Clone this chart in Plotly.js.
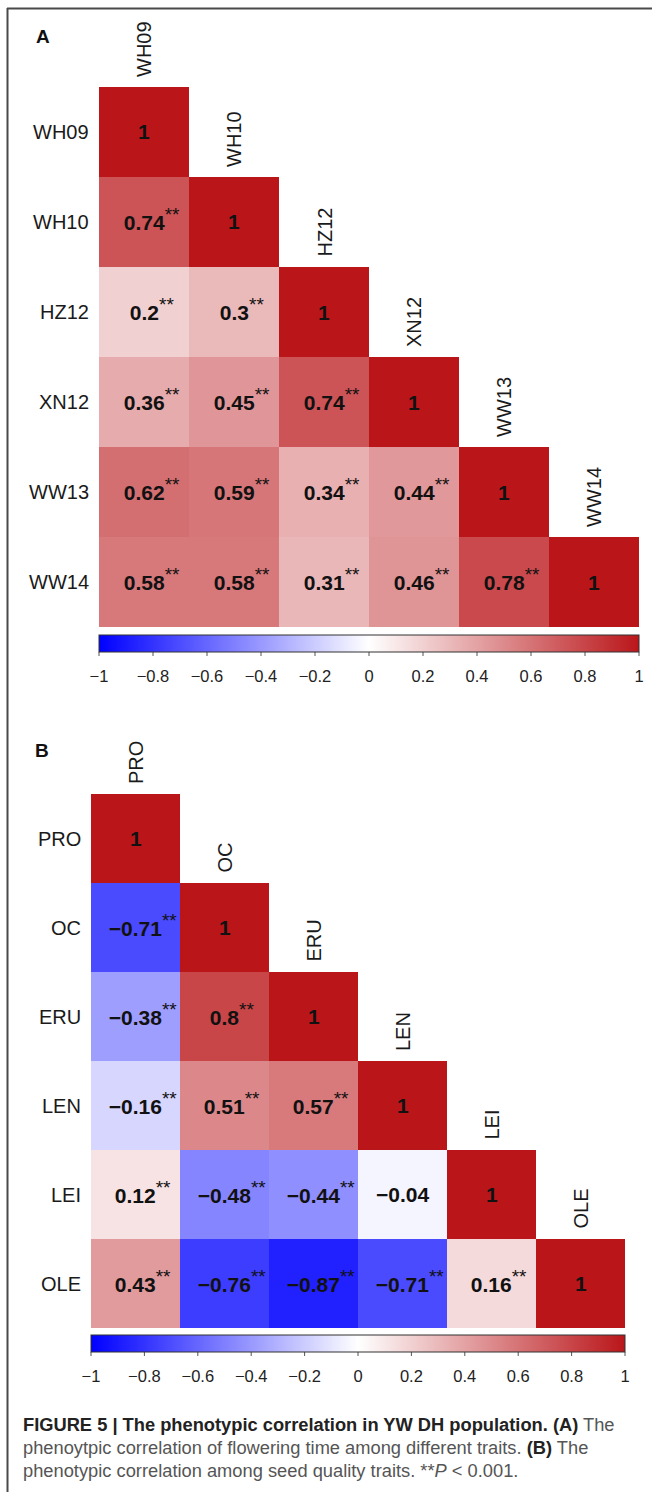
<!DOCTYPE html>
<html>
<head>
<meta charset="utf-8">
<script src="https://cdn.plot.ly/plotly-3.0.1.min.js"></script>
<style>
  html, body { margin: 0; padding: 0; background: #ffffff; }
  #chart { width: 652px; height: 1492px; }
</style>
</head>
<body>
<div id="chart"></div>
<script>
// ---------- data ----------
const traitsA = ["WH09", "WH10", "HZ12", "XN12", "WW13", "WW14"];
const valuesA = [
  [1],
  [0.74, 1],
  [0.2, 0.3, 1],
  [0.36, 0.45, 0.74, 1],
  [0.62, 0.59, 0.34, 0.44, 1],
  [0.58, 0.58, 0.31, 0.46, 0.78, 1]
];
const signifA = [
  [0],
  [1, 0],
  [1, 1, 0],
  [1, 1, 1, 0],
  [1, 1, 1, 1, 0],
  [1, 1, 1, 1, 1, 0]
];

const traitsB = ["PRO", "OC", "ERU", "LEN", "LEI", "OLE"];
const valuesB = [
  [1],
  [-0.71, 1],
  [-0.38, 0.8, 1],
  [-0.16, 0.51, 0.57, 1],
  [0.12, -0.48, -0.44, -0.04, 1],
  [0.43, -0.76, -0.87, -0.71, 0.16, 1]
];
const signifB = [
  [0],
  [1, 0],
  [1, 1, 0],
  [1, 1, 1, 0],
  [1, 1, 1, 0, 0],
  [1, 1, 1, 1, 1, 0]
];

const colorbarTicks = [-1, -0.8, -0.6, -0.4, -0.2, 0, 0.2, 0.4, 0.6, 0.8, 1];
const panelLabels = ["A", "B"];
const captionLines = [
  '<span style="color:#222"><b>FIGURE 5 | The phenotypic correlation in YW DH population. (A)</b></span> The',
  'phenoytpic correlation of flowering time among different traits. <span style="color:#222"><b>(B)</b></span> The',
  'phenotypic correlation among seed quality traits. **<i>P</i> &lt; 0.001.'
];

// ---------- styling / layout helpers ----------
const W = 652, H = 1492;
const FONT = "Liberation Sans, Arial, sans-serif";
const RED = "#BA161A";
const colorscale = [[0, "#0000FF"], [0.5, "#FFFFFF"], [1, RED]];

// pixel geometry for each panel (left, top, right, bottom) of the grid
const panels = [
  { traits: traitsA, values: valuesA, signif: signifA, box: [99, 87, 639, 627], cbTop: 635, label: [43, 36] },
  { traits: traitsB, values: valuesB, signif: signifB, box: [91, 794, 625, 1328], cbTop: 1335, label: [42, 750] }
];

const px2x = p => p / W;
const px2y = p => 1 - p / H;
const fmt = v => (v < 0 ? "\u2212" : "") + String(Math.abs(v));
const STARS = '<sup><span style="font-size:19px">**</span></sup>';
const STARS_HIDDEN = '<span style="color:rgba(0,0,0,0)">' + STARS + '</span>';

const data = [];
const annotations = [];
const shapes = [
  { type: "line", xref: "paper", yref: "paper", x0: px2x(7), x1: px2x(652), y0: px2y(8.5), y1: px2y(8.5), line: { color: "#4a4a4a", width: 2 } },
  { type: "line", xref: "paper", yref: "paper", x0: px2x(7.5), x1: px2x(7.5), y0: px2y(8), y1: px2y(1492), line: { color: "#4a4a4a", width: 2 } }
];
const layout = {
  width: W, height: H,
  margin: { l: 0, r: 0, t: 0, b: 0 },
  paper_bgcolor: "#ffffff",
  plot_bgcolor: "rgba(0,0,0,0)",
  font: { family: FONT, color: "#1a1a1a" },
  showlegend: false,
  shapes: shapes,
  annotations: annotations
};

const CB_THICK = 17;

panels.forEach((p, k) => {
  const n = p.traits.length;
  const idx = p.traits.map((_, i) => i);
  const z = idx.map(i => idx.map(j => (j <= i ? p.values[i][j] : null)));
  const suffix = k === 0 ? "" : String(k + 1);
  const xa = "x" + suffix, ya = "y" + suffix;
  const caName = "coloraxis" + suffix;

  data.push({
    type: "heatmap",
    x: idx, y: idx, z: z,
    xaxis: xa, yaxis: ya,
    coloraxis: caName,
    hoverinfo: "skip",
    xgap: 0, ygap: 0
  });

  const [l, t, r, b] = p.box;
  layout["xaxis" + suffix] = {
    domain: [px2x(l), px2x(r)], range: [-0.5, n - 0.5], visible: false, fixedrange: true, anchor: ya
  };
  layout["yaxis" + suffix] = {
    domain: [px2y(b), px2y(t)], range: [n - 0.5, -0.5], visible: false, fixedrange: true, anchor: xa
  };

  layout[caName] = {
    cmin: -1, cmax: 1, colorscale: colorscale,
    colorbar: {
      orientation: "h",
      lenmode: "pixels", len: r - l,
      thicknessmode: "pixels", thickness: CB_THICK,
      x: px2x((l + r) / 2), xanchor: "center",
      y: px2y(p.cbTop), yanchor: "top",
      xpad: 0, ypad: 0,
      outlinewidth: 1, outlinecolor: "#333333",
      ticks: "outside", ticklen: 10, tickwidth: 1, tickcolor: "rgba(0,0,0,0)",
      tickvals: colorbarTicks,
      ticktext: colorbarTicks.map(fmt),
      tickfont: { family: FONT, size: 16.5, color: "#222222" }
    }
  };

  // short visible tick marks under the colorbar, placed from the tick values
  colorbarTicks.forEach(tv => {
    const xp = l + (tv - (-1)) / 2 * (r - l);
    shapes.push({
      type: "line", xref: "paper", yref: "paper",
      x0: px2x(xp), x1: px2x(xp),
      y0: px2y(p.cbTop + CB_THICK), y1: px2y(p.cbTop + CB_THICK + 4),
      line: { color: "#555555", width: 1 }
    });
  });

  // cell text
  idx.forEach(i => {
    idx.forEach(j => {
      if (j > i) return;
      const v = p.values[i][j];
      const s = p.signif[i][j];
      const txt = s
        ? STARS_HIDDEN + '<b>' + fmt(v) + '</b>' + STARS
        : '<b>' + fmt(v) + '</b>';
      annotations.push({
        xref: xa, yref: ya, x: j, y: i, text: txt, showarrow: false,
        xanchor: "center", yanchor: "middle", yshift: s ? 3 : 0,
        font: { family: FONT, size: 21, color: "#111111" }
      });
    });
    // row labels
    annotations.push({
      xref: xa, yref: ya, x: -0.5, y: i, xshift: -8, text: p.traits[i], showarrow: false,
      xanchor: "right", yanchor: "middle",
      font: { family: FONT, size: 20, color: "#1a1a1a" }
    });
    // rotated column labels above diagonal cells
    annotations.push({
      xref: xa, yref: ya, x: i, y: i - 0.5, yshift: 8, text: p.traits[i], showarrow: false,
      textangle: -90, xanchor: "center", yanchor: "bottom",
      font: { family: FONT, size: 20, color: "#1a1a1a" }
    });
  });

  // panel label
  annotations.push({
    xref: "paper", yref: "paper", x: px2x(p.label[0]), y: px2y(p.label[1]),
    text: "<b>" + panelLabels[k] + "</b>", showarrow: false,
    xanchor: "center", yanchor: "middle",
    font: { family: FONT, size: 19, color: "#111111" }
  });
});

// caption
const captionY = [1424, 1447, 1470];
captionLines.forEach((line, i) => {
  annotations.push({
    xref: "paper", yref: "paper", x: px2x(21), y: px2y(captionY[i]),
    text: line, showarrow: false, xanchor: "left", yanchor: "middle", align: "left",
    font: { family: FONT, size: 18.3, color: "#555555" }
  });
});

Plotly.newPlot("chart", data, layout, { staticPlot: true, displayModeBar: false });
</script>
</body>
</html>
